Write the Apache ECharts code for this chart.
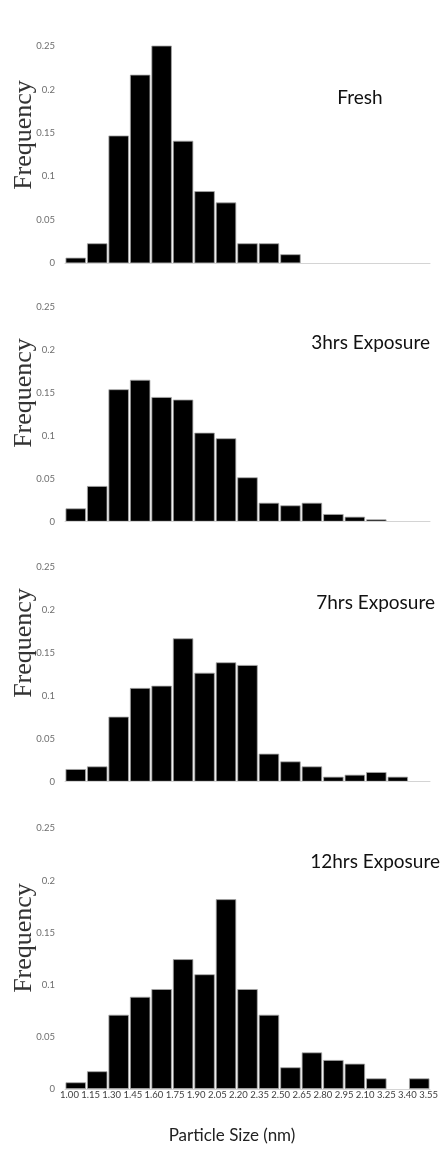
<!DOCTYPE html>
<html><head><meta charset="utf-8">
<script src="https://cdn.jsdelivr.net/npm/echarts@6/dist/echarts.min.js"></script>
<style>html,body{margin:0;padding:0;background:#fff}#c{width:441px;height:1149px}</style>
</head><body><div id="c"></div>
<script>
// 17 histogram bins (bars) per panel
const bins = ['b1','b2','b3','b4','b5','b6','b7','b8','b9','b10','b11','b12','b13','b14','b15','b16','b17'];
// tick labels printed under the last panel (as in the original figure)
const tickLabels = ['1.00','1.15','1.30','1.45','1.60','1.75','1.90','2.05','2.20','2.35','2.50','2.65','2.80','2.95','2.10','3.25','3.40','3.55'];
const panelTitles = ['Fresh','3hrs Exposure','7hrs Exposure','12hrs Exposure'];
const fresh   = [0.0065,0.023,0.147,0.217,0.251,0.141,0.083,0.070,0.023,0.023,0.0104,0,0,0,0,0,0];
const hrs3    = [0.0155,0.0415,0.154,0.165,0.145,0.142,0.1035,0.097,0.0516,0.022,0.019,0.022,0.0089,0.0058,0.0027,0,0];
const hrs7    = [0.0147,0.0178,0.0756,0.109,0.1116,0.1667,0.1267,0.1388,0.1357,0.0326,0.0236,0.0178,0.0058,0.0081,0.0112,0.0058,0];
const hrs12   = [0.0064,0.017,0.0712,0.0884,0.0958,0.1245,0.110,0.182,0.0958,0.0712,0.0208,0.0351,0.0278,0.0243,0.0102,0,0.0102];
const seriesData = [fresh, hrs3, hrs7, hrs12];

const H = 1149;
const panels = [
  {top:46, bottom:H-263.3, freqY:135, titleX:360, titleY:98, titleAlign:'center'},
  {top:306.7, bottom:H-521.7, freqY:393, titleX:430, titleY:343, titleAlign:'right'},
  {top:566.7, bottom:H-781.7, freqY:643, titleX:435, titleY:603, titleAlign:'right'},
  {top:828.3, bottom:H-1089, freqY:938, titleX:440, titleY:862, titleAlign:'right'}
];
const sans = 'Lato, "Open Sans", sans-serif';
const grid = [], xAxis = [], yAxis = [], series = [], graphic = [];
panels.forEach((p, i) => {
  grid.push({left:65, right:11, top:p.top, bottom:p.bottom});
  xAxis.push({type:'category', gridIndex:i, data:bins, boundaryGap:true, z:3,
    axisLine:{show:true, lineStyle:{color:'#d4d4d4', width:1}}, axisTick:{show:false}, axisLabel:{show:false}});
  yAxis.push({type:'value', gridIndex:i, min:0, max:0.25, interval:0.05,
    axisLine:{show:false}, axisTick:{show:false}, splitLine:{show:false},
    axisLabel:{color:'#6e6e6e', fontSize:9.5, fontFamily:sans, margin:10}});
  series.push({type:'bar', xAxisIndex:i, yAxisIndex:i, barCategoryGap:'5%',
    data:seriesData[i].map(v => ({value:v, itemStyle: v === 0 ? {borderWidth:0} : undefined})),
    itemStyle:{color:'#000', borderColor:'#a8a8a8', borderWidth:0.8}, silent:true});
  graphic.push({type:'text', x:24, y:p.freqY, rotation:Math.PI/2,
    style:{text:'Frequency', font:'26px "Liberation Serif", "Times New Roman", serif', fill:'#333', textAlign:'center', textVerticalAlign:'middle'}});
  graphic.push({type:'text', x:p.titleX, y:p.titleY,
    style:{text:panelTitles[i], font:'19px ' + sans, fill:'#111', textAlign:p.titleAlign, textVerticalAlign:'middle'}});
});
// label-only axis for the bottom tick labels
grid.push({left:69.5, right:11, top:panels[3].top, bottom:panels[3].bottom});
xAxis.push({type:'category', gridIndex:4, data:tickLabels, boundaryGap:false,
  axisLine:{show:false}, axisTick:{show:false},
  axisLabel:{show:true, interval:0, color:'#404040', fontSize:9.5, fontFamily:sans, margin:1}});
yAxis.push({type:'value', gridIndex:4, show:false, min:0, max:0.25});
graphic.push({type:'text', x:232, y:1136,
  style:{text:'Particle Size (nm)', font:'17px ' + sans, fill:'#222', textAlign:'center', textVerticalAlign:'middle'}});

const chart = echarts.init(document.getElementById('c'), null, {renderer:'canvas'});
chart.setOption({animation:false, backgroundColor:'#fff', grid, xAxis, yAxis, series, graphic});
</script></body></html>
